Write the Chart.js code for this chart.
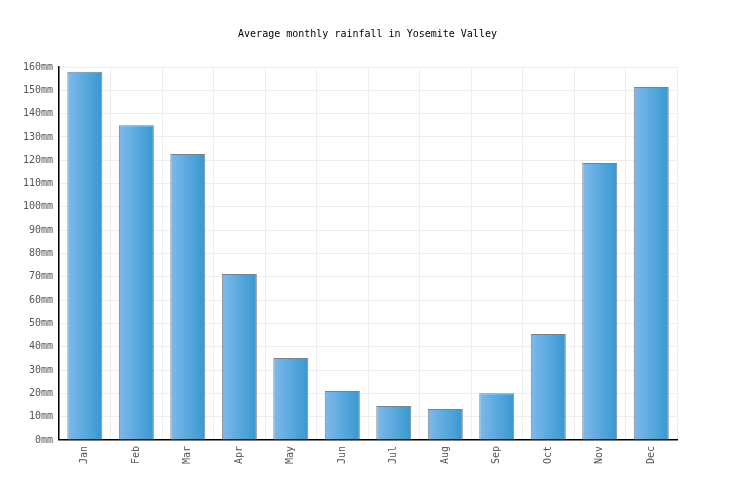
<!DOCTYPE html>
<html>
<head>
<meta charset="utf-8">
<script src="https://cdn.jsdelivr.net/npm/chart.js@4"></script>
<style>
  html, body { margin: 0; padding: 0; background: #fff; }
</style>
</head>
<body>
<canvas id="rainChart" width="736" height="500"></canvas>
<script>
// 数据
const months = ['Jan', 'Feb', 'Mar', 'Apr', 'May', 'Jun', 'Jul', 'Aug', 'Sep', 'Oct', 'Nov', 'Dec'];
const rainfall = [158, 135, 122.7, 71.2, 35.2, 21, 14.6, 13.3, 20, 45.5, 118.8, 151.4];
const yMin = 0;
const yMax = 160;
const yStep = 10;
const barPct = 0.68;

// 每根柱子横向渐变
function barFill(c) {
    const chart = c.chart;
    const xs = chart.scales.x;
    if (!xs || !chart.chartArea || c.dataIndex === undefined) return '#5aa8e0';
    const slot = (xs.right - xs.left) / months.length;
    const w = slot * barPct;
    const cx = xs.getPixelForValue(c.dataIndex);
    const g = chart.ctx.createLinearGradient(cx - w / 2, 0, cx + w / 2, 0);
    g.addColorStop(0, '#7fb9ec');
    g.addColorStop(1, '#3798cf');
    return g;
}

const font = { family: '"DejaVu Sans Mono", monospace', size: 10, weight: 'normal' };

new Chart(document.getElementById('rainChart').getContext('2d'), {
    type: 'bar',
    data: {
        labels: months,
        datasets: [{
            data: rainfall,
            backgroundColor: barFill,
            borderColor: '#808080',
            borderWidth: 1,
            barPercentage: barPct,
            categoryPercentage: 1
        }]
    },
    options: {
        responsive: false,
        animation: false,
        layout: { padding: { top: 28, left: 17, right: 18, bottom: 30 } },
        plugins: {
            legend: { display: false },
            tooltip: { enabled: false },
            title: {
                display: true,
                text: 'Average monthly rainfall in Yosemite Valley',
                color: '#000',
                font: font,
                padding: { top: 0, bottom: 27 }
            }
        },
        scales: {
            x: {
                grid: { color: '#eeeeee', drawTicks: false },
                border: { color: '#000', width: 1.5 },
                ticks: {
                    color: '#555',
                    font: font,
                    minRotation: 90,
                    maxRotation: 90,
                    padding: 6
                }
            },
            y: {
                min: yMin,
                max: yMax,
                grid: { color: '#eeeeee', drawTicks: false },
                border: { color: '#000', width: 1.5 },
                ticks: {
                    stepSize: yStep,
                    color: '#555',
                    font: font,
                    padding: 6,
                    callback: v => v + 'mm'
                }
            },
            // 右侧留白
            spacer: {
                type: 'linear',
                position: 'right',
                display: true,
                grid: { drawOnChartArea: false, drawTicks: false },
                border: { display: false },
                ticks: { display: false },
                afterFit: s => { s.width = 41; }
            }
        }
    }
});
</script>
</body>
</html>
